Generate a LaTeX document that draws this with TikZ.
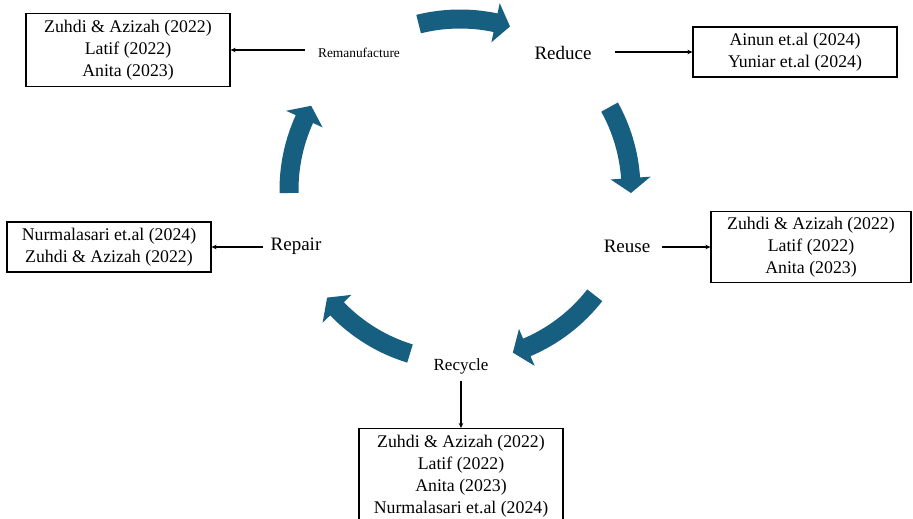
\documentclass[tikz,border=0pt]{standalone}
\usepackage{fontspec}
\setmainfont{Liberation Serif}
\usetikzlibrary{arrows.meta}
\definecolor{cyccol}{RGB}{23,95,128}
\newcommand{\cycarrow}[2]{%
  \pgfmathsetmacro{\hb}{#2-5}%
  \fill[cyccol] (#1:161.5) arc[start angle=#1, end angle=\hb, radius=161.5]
    -- (\hb:151) -- (#2:171) -- (\hb:191) -- (\hb:180.5)
    arc[start angle=\hb, end angle=#1, radius=180.5] -- cycle;}
\tikzset{
  refbox/.style={draw, line width=1.2pt, minimum width=204pt, align=center,
    font=\fontsize{17.8}{22}\selectfont, inner sep=0pt},
  lab/.style={font=\fontsize{19}{22}\selectfont, inner sep=0pt},
  conn/.style={line width=1.2pt, -{Stealth[length=5pt,width=4.5pt]}}
}
\begin{document}
\begin{tikzpicture}[x=1pt,y=-1pt]
\useasboundingbox (0,0) rectangle (913,519);
\fill[white] (0,0) rectangle (913,519);
% cycle arrows
\begin{scope}[shift={(460,190)}]
  \cycarrow{-104}{-73}
  \cycarrow{-29}{1}
  \cycarrow{38}{72}
  \cycarrow{107}{141}
  \cycarrow{179}{209.5}
\end{scope}
% labels
\node[lab, font=\fontsize{13.4}{16}\selectfont] (reman) at (359,53) {Remanufacture};
\node[lab] (reduce) at (563,53) {Reduce};
\node[lab] (reuse) at (627,246) {Reuse};
\node[lab] (repair) at (296,246) {Repair};
\node[lab, font=\fontsize{17}{20}\selectfont] (recycle) at (461,366) {Recycle};
% boxes
\node[refbox, minimum height=73pt] (bremx) at (128,50)
  {Zuhdi \& Azizah (2022)\\Latif (2022)\\Anita (2023)};
\node[refbox, minimum height=50pt] (bred) at (795,52)
  {Ainun et.al (2024)\\Yuniar et.al (2024)};
\node[refbox, minimum width=200pt, minimum height=71pt] (breu) at (811,247)
  {Zuhdi \& Azizah (2022)\\Latif (2022)\\Anita (2023)};
\node[refbox, minimum height=50pt] (brep) at (109,247)
  {Nurmalasari et.al (2024)\\Zuhdi \& Azizah (2022)};
\node[refbox, minimum height=96pt, anchor=north] (brec) at (461,428)
  {Zuhdi \& Azizah (2022)\\Latif (2022)\\Anita (2023)\\Nurmalasari et.al (2024)};
% connectors
\draw[conn, shorten <=13pt] (reman.west |- bremx.east) -- (bremx.east);
\draw[conn, shorten <=23pt] (reduce.east |- bred.west) -- (bred.west);
\draw[conn, shorten <=12pt] (reuse.east |- breu.west) -- (breu.west);
\draw[conn, shorten <=7pt] (repair.west |- brep.east) -- (brep.east);
\draw[conn, shorten <=7pt] (recycle.south) -- (brec.north);
\end{tikzpicture}
\end{document}
